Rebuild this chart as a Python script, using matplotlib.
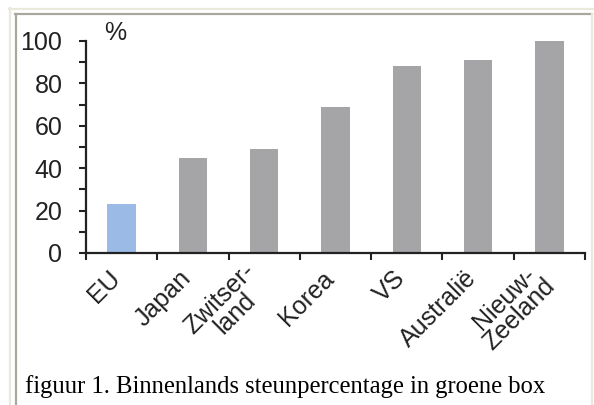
import matplotlib
matplotlib.use("Agg")
import matplotlib.pyplot as plt
from matplotlib.lines import Line2D

countries = ["EU", "Japan", "Zwitser-\nland", "Korea", "VS", "Australië", "Nieuw-\nZeeland"]
steun = [23, 45, 49, 69, 88, 91, 100]
kleuren = ["#9bbbe6", "#a5a4a7", "#a5a4a7", "#a5a4a7", "#a5a4a7", "#a5a4a7", "#a5a4a7"]
yticks = [0, 20, 40, 60, 80, 100]
caption = "figuur 1. Binnenlands steunpercentage in groene box"

W, H = 594, 405
fig = plt.figure(figsize=(W / 100, H / 100), dpi=100)
fig.patch.set_facecolor("white")

# page frame (inset border of the original web page)
def fline(x0, y0, x1, y1, color, lw=1.2):
    fig.add_artist(Line2D([x0 / W, x1 / W], [1 - y0 / H, 1 - y1 / H],
                          transform=fig.transFigure, color=color, lw=lw))

fline(9, 8.5, 594, 8.5, "#ebe9dc", 1.6)
fline(9.5, 8, 9.5, 405, "#ebe9dc", 1.6)
fline(15, 14, 592, 14, "#a8a8a0", 1.6)
fline(15.5, 14, 15.5, 405, "#a8a8a0", 1.6)
fline(592, 14, 592, 405, "#ebe9dc", 1.6)

ax = fig.add_axes([86 / W, (H - 253) / H, (585 - 86) / W, (253 - 41) / H])
x = range(len(countries))
ax.bar(x, steun, width=0.4, color=kleuren, zorder=2)

ax.set_xlim(-0.5, len(countries) - 0.5)
ax.set_ylim(0, 100)
for s in ["top", "right"]:
    ax.spines[s].set_visible(False)
for s in ["left", "bottom"]:
    ax.spines[s].set_color("#222222")
    ax.spines[s].set_linewidth(1.6)

ax.set_yticks(yticks)
ax.set_yticks([10, 30, 50, 70, 90], minor=True)
ax.tick_params(axis="y", which="both", direction="out", length=5, width=1.5,
               color="#222222", labelsize=18, pad=12)
for lab in ax.get_yticklabels():
    lab.set_fontfamily("Liberation Sans")
    lab.set_color("#222222")

# category labels, rotated, drawn by hand so they can be nudged
ax.set_xticks([i - 0.5 for i in range(len(countries) + 1)])
ax.set_xticklabels([])
ax.tick_params(axis="x", direction="out", length=5, width=1.5, color="#222222")
for i, name in enumerate(countries):
    ax.annotate(name, xy=(i, 0), xycoords="data", xytext=(-4, -15.5),
                textcoords="offset points", rotation=45, ha="right", va="center",
                rotation_mode="anchor", fontsize=18, family="Liberation Sans",
                color="#222222", multialignment="center", linespacing=0.85,
                annotation_clip=False)

ax.text(-0.24, 104, "%", fontsize=18, family="Liberation Sans", color="#222222",
        va="center", ha="left", clip_on=False)

fig.text(25 / W, 1 - 393 / H, caption, fontsize=17.7, family="Liberation Serif",
         color="black", ha="left", va="baseline")

fig.savefig("out.png", dpi=100)
